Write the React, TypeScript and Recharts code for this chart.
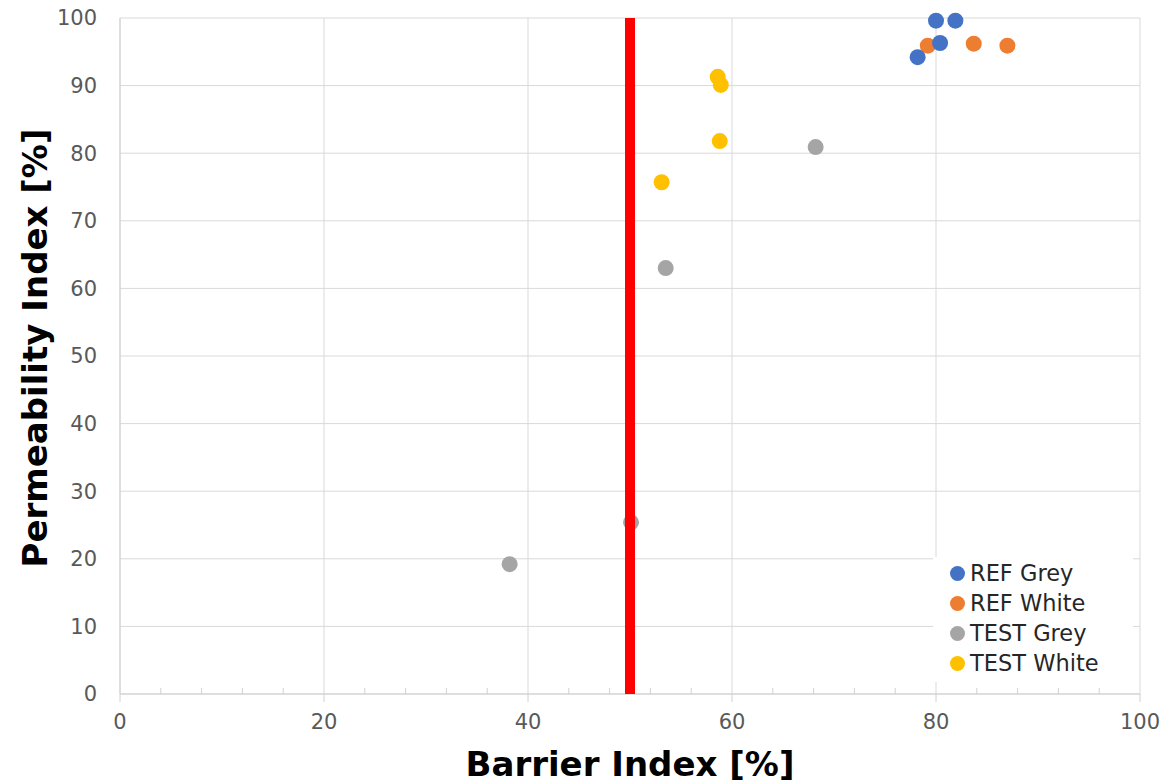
import { CartesianGrid, Legend, Scatter, ScatterChart, XAxis, YAxis } from "recharts";

// values (Barrier Index %, Permeability Index %)
const refGrey = [
  { x: 80.0, y: 99.6 },
  { x: 81.9, y: 99.6 },
  { x: 80.4, y: 96.3 },
  { x: 78.2, y: 94.2 },
];
const refWhite = [
  { x: 79.2, y: 95.9 },
  { x: 83.7, y: 96.2 },
  { x: 87.0, y: 95.9 },
];
const testGrey = [
  { x: 68.2, y: 80.9 },
  { x: 53.5, y: 63.0 },
  { x: 50.1, y: 25.4 },
  { x: 38.2, y: 19.2 },
];
const testWhite = [
  { x: 58.6, y: 91.3 },
  { x: 58.9, y: 90.1 },
  { x: 58.8, y: 81.8 },
  { x: 53.1, y: 75.7 },
];
// threshold at 50 %
const threshold = [
  { x: 50, y: 0 },
  { x: 50, y: 100 },
];

const xTicks = [0, 4, 8, 12, 16, 20, 24, 28, 32, 36, 40, 44, 48, 52, 56, 60, 64, 68, 72, 76, 80, 84, 88, 92, 96, 100];
const xMajorTicks = [0, 20, 40, 60, 80, 100];
const yTicks = [0, 10, 20, 30, 40, 50, 60, 70, 80, 90, 100];

const series = [
  { name: "REF Grey", color: "#4472C4", data: refGrey },
  { name: "REF White", color: "#ED7D31", data: refWhite },
  { name: "TEST Grey", color: "#A5A5A5", data: testGrey },
  { name: "TEST White", color: "#FFC000", data: testWhite },
];
const drawOrder = ["REF White", "REF Grey", "TEST Grey", "TEST White"];

const FONT = "DejaVu Sans";
const AXIS = "#D0D0D0";
const GRID = "#D9D9D9";
const TICK_TEXT = "#595959";

function XTick({ x, y, payload }: any) {
  const v = payload.value;
  if (v % 20 !== 0) {
    return <line x1={x} x2={x} y1={y} y2={y - 6} stroke={AXIS} />;
  }
  return (
    <g>
      <line x1={x} x2={x} y1={y} y2={y + 8} stroke={AXIS} />
      <text x={x} y={y + 28} dy="0.355em" textAnchor="middle" fontSize={21} fill={TICK_TEXT} fontFamily={FONT}>
        {v}
      </text>
    </g>
  );
}

function XTitle({ viewBox }: any) {
  return (
    <text
      x={viewBox.x + viewBox.width / 2}
      y={viewBox.y + 70}
      dy="0.355em"
      textAnchor="middle"
      fontSize={34}
      fontWeight={700}
      fill="#000"
      fontFamily={FONT}
    >
      Barrier Index [%]
    </text>
  );
}

function YTitle({ viewBox }: any) {
  const cx = 35;
  const cy = viewBox.y + viewBox.height / 2 - 8;
  return (
    <text
      x={cx}
      y={cy}
      dy="0.355em"
      textAnchor="middle"
      fontSize={34}
      fontWeight={700}
      fill="#000"
      fontFamily={FONT}
      transform={`rotate(-90, ${cx}, ${cy})`}
    >
      Permeability Index [%]
    </text>
  );
}

function LegendBox() {
  return (
    <div
      style={{
        background: "#fff",
        width: 200,
        height: 125,
        paddingTop: 1,
        boxSizing: "border-box",
        fontFamily: FONT,
        fontSize: 22.5,
        color: "#262626",
      }}
    >
      {series.map((s) => (
        <div key={s.name} style={{ display: "flex", alignItems: "center", height: 30 }}>
          <span
            style={{
              display: "inline-block",
              width: 15,
              height: 15,
              borderRadius: "50%",
              background: s.color,
              marginLeft: 17,
              marginRight: 5,
            }}
          />
          <span>{s.name}</span>
        </div>
      ))}
    </div>
  );
}

export default function App() {
  return (
    <div style={{ position: "fixed", top: 0, left: 0, width: 1166, height: 783, overflow: "hidden", background: "#fff" }}>
      <ScatterChart
        width={1166}
        height={783}
        margin={{ top: 18, right: 26, left: 0, bottom: 29 }}
        style={{ fontFamily: FONT }}
      >
        <CartesianGrid stroke={GRID} verticalValues={xMajorTicks} />
        <XAxis
          type="number"
          dataKey="x"
          domain={[0, 100]}
          ticks={xTicks}
          interval={0}
          tickSize={0}
          tickMargin={0}
          tickLine={false}
          tick={<XTick />}
          axisLine={{ stroke: AXIS }}
          height={60}
          label={{ content: <XTitle /> }}
        />
        <YAxis
          type="number"
          dataKey="y"
          domain={[0, 100]}
          ticks={yTicks}
          interval={0}
          width={120}
          tickLine={false}
          tickSize={0}
          tickMargin={23}
          axisLine={{ stroke: AXIS }}
          tick={{ fontSize: 21, fill: TICK_TEXT, fontFamily: FONT }}
          label={{ content: <YTitle /> }}
        />
        {drawOrder.map((name) => {
          const s = series.find((d) => d.name === name)!;
          return (
            <Scatter
              key={s.name}
              name={s.name}
              data={s.data}
              fill={s.color}
              isAnimationActive={false}
              shape={(p: any) => <circle cx={p.cx} cy={p.cy} r={8} fill={s.color} />}
            />
          );
        })}
        <Scatter
          name="threshold"
          data={threshold}
          legendType="none"
          line={{ stroke: "#FF0000", strokeWidth: 10 }}
          shape={() => <g />}
          isAnimationActive={false}
        />
        <Legend
          layout="vertical"
          align="center"
          verticalAlign="middle"
          content={<LegendBox />}
          wrapperStyle={{ left: 933, top: 557, width: 200, height: 125 }}
        />
      </ScatterChart>
    </div>
  );
}
